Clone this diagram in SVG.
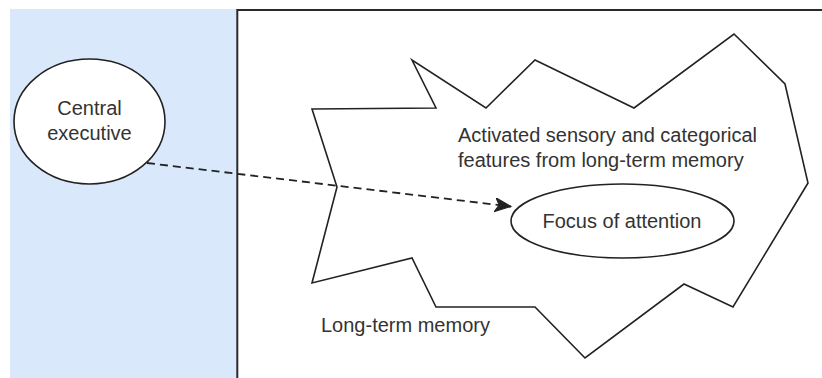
<svg xmlns="http://www.w3.org/2000/svg" width="822" height="378" viewBox="0 0 822 378">
<style>
.shape{fill:#ffffff;stroke:#222222;stroke-width:1.6}
.lbl{font-family:"Liberation Sans",Arial,sans-serif;font-size:20px;fill:#333333}
.mid{text-anchor:middle}
.conn{fill:none;stroke:#222222;stroke-width:1.8;stroke-dasharray:8 5}
</style>
<defs>
<marker id="arrow" markerUnits="userSpaceOnUse" markerWidth="20" markerHeight="16" refX="16" refY="7" orient="auto">
<path d="M0,0 L16,7 L0,14 L4,7 Z" fill="#222222" stroke="#222222" stroke-width="1"/>
</marker>
</defs>
<rect x="0" y="0" width="822" height="378" fill="#ffffff"/>
<g id="panel-left">
<rect x="10" y="9" width="227" height="369" fill="#dae8fc"/>
</g>
<g id="panel-right">
<path d="M237.3,378 L237.3,10 L822,10" fill="none" stroke="#2a2a2a" stroke-width="2"/>
</g>
<g id="long-term-memory">
<polygon class="shape" points="312,109 436,108 412,60 486,108 535,60 634,108 734,34 785,84 808,183 733,307 684,284 585,358 535,307 436,307 412,258 312,283 337,187"/>
<text class="lbl" x="321" y="332">Long-term memory</text>
<text class="lbl" x="458" y="141.5">Activated sensory and categorical</text>
<text class="lbl" x="458" y="166.5">features from long-term memory</text>
</g>
<g id="central-executive">
<ellipse class="shape" cx="89.5" cy="121.5" rx="75.5" ry="62.5"/>
<text class="lbl mid" x="89.5" y="115">Central</text>
<text class="lbl mid" x="89.5" y="139.5">executive</text>
</g>
<g id="focus-of-attention">
<ellipse class="shape" cx="622.5" cy="221" rx="111.5" ry="37"/>
<text class="lbl mid" x="622" y="228">Focus of attention</text>
</g>
<g id="connectors">
<path class="conn" d="M147,163 L511,206.5" marker-end="url(#arrow)"/>
</g>
</svg>
